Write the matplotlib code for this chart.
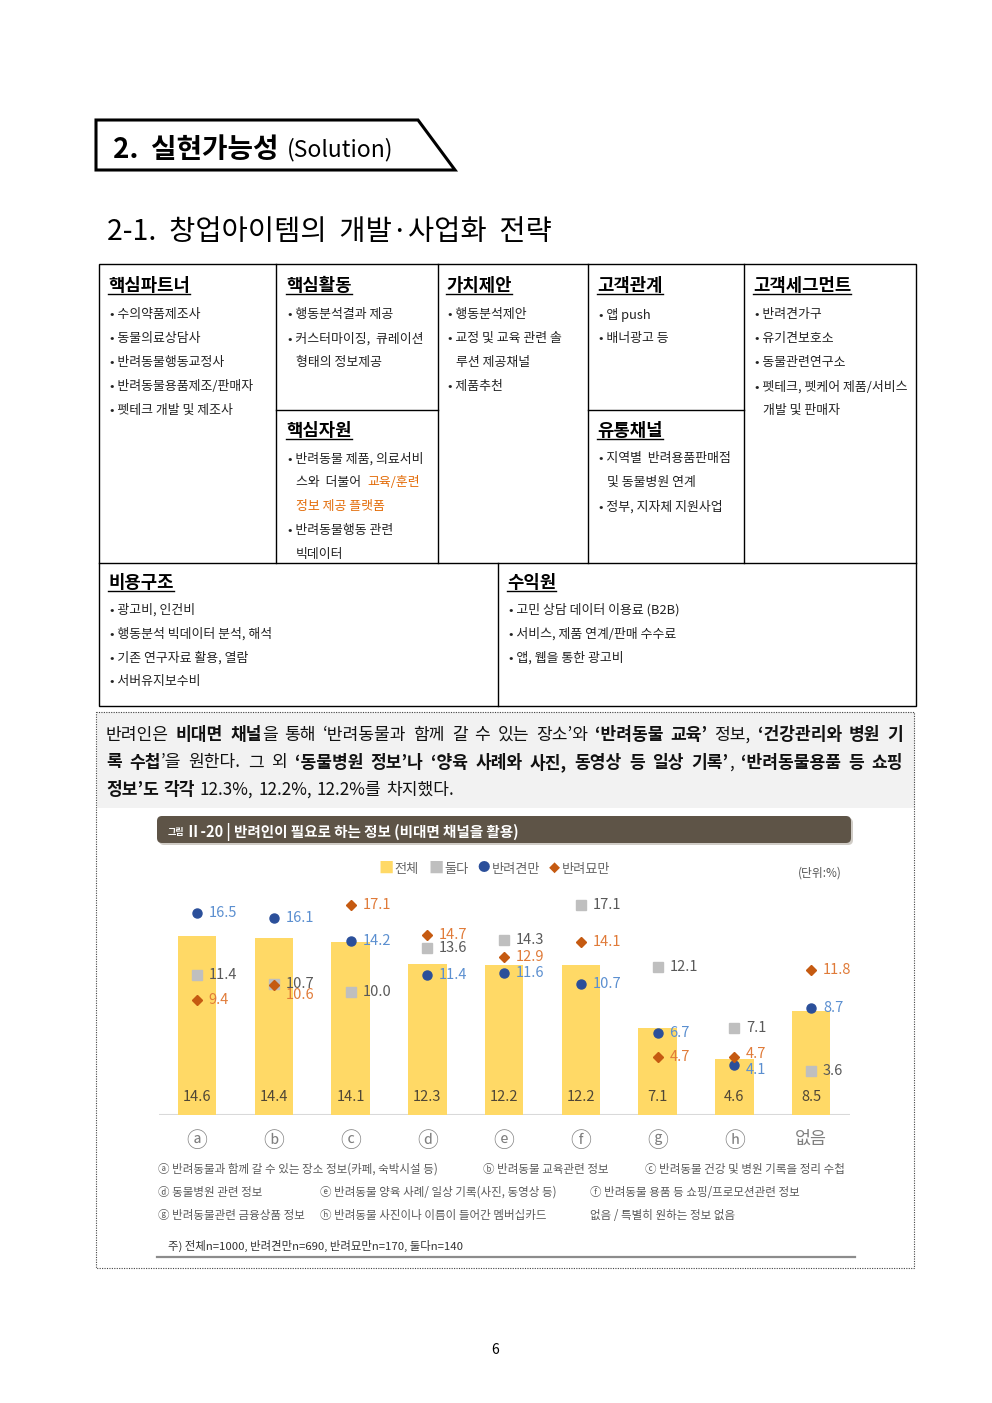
import matplotlib
matplotlib.use('Agg')
import matplotlib.pyplot as plt
from matplotlib.patches import Rectangle, Polygon, FancyBboxPatch

FONT = ['Noto Sans CJK KR', 'DejaVu Sans']
plt.rcParams['font.family'] = FONT

# ---------------- data ----------------
categories = ['ⓐ', 'ⓑ', 'ⓒ', 'ⓓ', 'ⓔ', 'ⓕ', 'ⓖ', 'ⓗ', '없음']
total = [14.6, 14.4, 14.1, 12.3, 12.2, 12.2, 7.1, 4.6, 8.5]
both = [11.4, 10.7, 10.0, 13.6, 14.3, 17.1, 12.1, 7.1, 3.6]
dog_only = [16.5, 16.1, 14.2, 11.4, 11.6, 10.7, 6.7, 4.1, 8.7]
cat_only = [9.4, 10.6, 17.1, 14.7, 12.9, 14.1, 4.7, 4.7, 11.8]
series_names = ['전체', '둘다', '반려견만', '반려묘만']

footnotes = [
    ['ⓐ 반려동물과 함께 갈 수 있는 장소 정보(카페, 숙박시설 등)', 'ⓑ 반려동물 교육관련 정보', 'ⓒ 반려동물 건강 및 병원 기록을 정리 수첩'],
    ['ⓓ 동물병원 관련 정보', 'ⓔ 반려동물 양육 사례/ 일상 기록(사진, 동영상 등)', 'ⓕ 반려동물 용품 등 쇼핑/프로모션관련 정보'],
    ['ⓖ 반려동물관련 금융상품 정보', 'ⓗ 반려동물 사진이나 이름이 들어간 멤버십카드', '없음 / 특별히 원하는 정보 없음'],
]

W, H = 992, 1403
fig = plt.figure(figsize=(W / 100, H / 100), dpi=100)
fig.patch.set_facecolor('white')
pg = fig.add_axes([0, 0, 1, 1])
pg.set_xlim(0, W)
pg.set_ylim(H, 0)
pg.axis('off')
R = fig.canvas.get_renderer()


def txt(x, y, s, size, weight='normal', color='#000000', ha='left', va='center_baseline', **kw):
    return pg.text(x, y, s, fontsize=size, fontweight=weight, color=color, ha=ha, va=va, **kw)


def wid(t):
    return t.get_window_extent(renderer=R).width


# ---------------- section header ----------------
pg.add_patch(Polygon([(96, 120), (418, 120), (455, 170), (96, 170)], closed=True,
                     fill=False, lw=2.2, ec='black', joinstyle='miter'))
t = txt(113, 147, '2.  실현가능성', 20, 'bold')
txt(113 + wid(t) + 8, 147, '(Solution)', 16.5, 'medium')

txt(107, 229, '2-1.  창업아이템의  개발·사업화  전략', 20.5, 'normal')

# ---------------- business model table ----------------
LW = 1.0
pg.add_patch(Rectangle((99, 264), 817, 442, fill=False, lw=LW, ec='black'))
for xv in [276, 438, 588, 744]:
    pg.plot([xv, xv], [264, 563], color='black', lw=LW)
pg.plot([99, 916], [563, 563], color='black', lw=LW)
pg.plot([498, 498], [563, 706], color='black', lw=LW)
pg.plot([276, 438], [410, 410], color='black', lw=LW)
pg.plot([588, 744], [410, 410], color='black', lw=LW)

HS, IS = 12.8, 9.3
ORANGE_T = '#E36C09'


def header(x, y, s):
    t = txt(x, y, s, HS, 'bold')
    w = wid(t)
    pg.plot([x, x + w], [y + 10, y + 10], color='black', lw=1.0)


def items(x, y0, lines, step=24):
    for i, ln in enumerate(lines):
        if isinstance(ln, tuple):
            xi = x + ln[1]
            s = ln[0]
        else:
            xi, s = x, ln
        txt(xi, y0 + i * step, s, IS, color='#222222')


header(108, 284, '핵심파트너')
items(110, 313, ['• 수의약품제조사', '• 동물의료상담사', '• 반려동물행동교정사',
                 '• 반려동물용품제조/판매자', '• 펫테크 개발 및 제조사'])

header(286, 284, '핵심활동')
items(288, 313, ['• 행동분석결과 제공', '• 커스터마이징,  큐레이션', ('형태의 정보제공', 8)])

header(286, 429, '핵심자원')
items(288, 457, ['• 반려동물 제품, 의료서비'])
t = txt(296, 481, '스와  더불어  ', IS, color='#222222')
txt(296 + wid(t), 481, '교육/훈련', IS, color=ORANGE_T)
txt(296, 505, '정보 제공 플랫폼', IS, color=ORANGE_T)
items(288, 529, ['• 반려동물행동 관련', ('빅데이터', 8)])

header(446, 284, '가치제안')
items(448, 313, ['• 행동분석제안', '• 교정 및 교육 관련 솔', ('루션 제공채널', 8), '• 제품추천'])

header(597, 284, '고객관계')
items(599, 313, ['• 앱 push', '• 배너광고 등'])

header(597, 429, '유통채널')
items(599, 457, ['• 지역별  반려용품판매점', ('및 동물병원 연계', 8), '• 정부, 지자체 지원사업'])

header(753, 284, '고객세그먼트')
items(755, 313, ['• 반려견가구', '• 유기견보호소', '• 동물관련연구소',
                 '• 펫테크, 펫케어 제품/서비스', ('개발 및 판매자', 8)])

header(108, 581, '비용구조')
items(110, 608, ['• 광고비, 인건비', '• 행동분석 빅데이터 분석, 해석',
                 '• 기존 연구자료 활용, 열람', '• 서버유지보수비'])
header(507, 581, '수익원')
items(509, 608, ['• 고민 상담 데이터 이용료 (B2B)', '• 서비스, 제품 연계/판매 수수료',
                 '• 앱, 웹을 통한 광고비'])

# ---------------- gray text box + dotted frame ----------------
pg.add_patch(Rectangle((97, 712), 818, 96, fc='#F2F2F2', ec='none', zorder=0))
pg.add_patch(Rectangle((96, 712), 818, 556, fill=False, ec='#444444', lw=0.8,
                       ls=(0, (1, 1.2))))

PS = 12.3
N, B = 'normal', 'bold'
para = [
    ([('반려인은 ', N), ('비대면 채널', B), ('을 통해 ‘반려동물과 함께 갈 수 있는 장소’와 ', N),
      ('‘반려동물 교육’', B), (' 정보, ', N), ('‘건강관리와 병원 기', B)], True),
    ([('록 수첩', B), ('’을 원한다. 그 외 ', N), ('‘동물병원 정보’나 ‘양육 사례와 사진, 동영상 등 일상 기록’', B),
      (', ', N), ('‘반려동물용품 등 쇼핑', B)], True),
    ([('정보’도 각각', B), (' 12.3%, 12.2%, 12.2%를 차지했다.', N)], False),
]


def draw_line(x, y, runs, size, justify_to=None):
    words = [[]]
    for s, w in runs:
        parts = s.split(' ')
        for k, p in enumerate(parts):
            if k > 0:
                words.append([])
            if p:
                words[-1].append((p, w))
    words = [wd for wd in words if wd]
    placed = []
    widths = []
    for wd in words:
        ws = 0
        arts = []
        for p, w in wd:
            t = txt(0, y, p, size, w, color='#111111')
            arts.append((t, wid(t)))
            ws += arts[-1][1]
        placed.append(arts)
        widths.append(ws)
    sp = size * 100 / 72 * 0.28
    if justify_to is not None and len(words) > 1:
        sp = (justify_to - sum(widths)) / (len(words) - 1)
    cx = x
    for arts, ws in zip(placed, widths):
        for t, w in arts:
            t.set_x(cx)
            cx += w
        cx += sp


for i, (runs, just) in enumerate(para):
    draw_line(106, 733 + i * 27.5, runs, PS, 797 if just else None)

# ---------------- chart title bar ----------------
pg.add_patch(FancyBboxPatch((159, 818), 694, 27, boxstyle='round,pad=0,rounding_size=5',
                            fc='#D0CCC6', ec='none'))
pg.add_patch(FancyBboxPatch((157, 816), 694, 27, boxstyle='round,pad=0,rounding_size=5',
                            fc='#5E5447', ec='none'))
t = txt(168, 831, '그림', 6.5, 'bold', color='white')
txt(168 + wid(t) + 1, 830, 'Ⅱ-20 | 반려인이 필요로 하는 정보 (비대면 채널을 활용)', 10.5, 'bold', color='white')

# legend
LEG_C = '#666666'
legend_items = [('■', '#FFD966', 386, 11), ('■', '#BFBFBF', 436, 11),
                ('●', '#2B4F9A', 484, 9), ('◆', '#C55A11', 554, 8)]
for (sym, col, lx, fs), name in zip(legend_items, series_names):
    txt(lx, 868, sym, fs, color=col, ha='center', va='center')
    txt(lx + 8, 868, name, 9.5, color=LEG_C)
txt(842, 872, '(단위:%)', 8.5, color='#555555', ha='right')

# ---------------- chart ----------------
x0, x1 = 158.6, 849.6
base, top = 1115, 880
ppu = 12.26
ax = fig.add_axes([x0 / W, (H - base) / H, (x1 - x0) / W, (base - top) / H])
ax.set_xlim(-0.5, 8.5)
ax.set_ylim(0, (base - top) / ppu)
ax.patch.set_alpha(0)
for s in ax.spines.values():
    s.set_visible(False)
ax.set_yticks([])
xs = list(range(len(categories)))
ax.set_xticks(xs, categories)
ax.tick_params(axis='x', length=0, pad=11, labelsize=12.5, labelcolor='#7F7F7F')
for lab in ax.get_xticklabels():
    if lab.get_text() != '없음':
        lab.set_fontsize(15)
ax.axhline(0, color='#D9D9D9', lw=1.5, zorder=1)

ax.bar(xs, total, width=0.5, color='#FFD966', zorder=2)
for i, v in enumerate(total):
    ax.annotate(f'{v:.1f}', (i, 0), xytext=(0, 13), textcoords='offset points',
                ha='center', va='center', fontsize=10.5, color='#4F4636', zorder=5)

series = [
    (both, 's', '#BFBFBF', 6.5, '#595959'),
    (dog_only, 'o', '#2B4F9A', 6.5, '#5B8FD0'),
    (cat_only, 'D', '#C55A11', 4.6, '#E07B39'),
]
label_nudge = {(2, 1): -7.5, (2, 7): 2.5, (1, 7): -3.5}
for si, (vals, mk, col, ms, lcol) in enumerate(series):
    ax.plot(xs, vals, ls='none', marker=mk, color=col, ms=ms, mec=col, zorder=4)
    for i, v in enumerate(vals):
        dy = label_nudge.get((si, i), 0)
        ax.annotate(f'{v:.1f}', (i, v), xytext=(8.5, dy), textcoords='offset points',
                    ha='left', va='center', fontsize=10.5, color=lcol, zorder=5)

# footnotes
fx = [[158, 483, 645], [158, 320, 590], [158, 320, 590]]
for r, row in enumerate(footnotes):
    for c, s in enumerate(row):
        txt(fx[r][c], 1168 + r * 23, s, 8.3, color='#595959')

txt(168, 1245, '주) 전체n=1000, 반려견만n=690, 반려묘만n=170, 둘다n=140', 8.2, 'medium', color='#333333')
pg.plot([157, 855], [1257, 1257], color='#8C8C8C', lw=1.6)

txt(495, 1349, '6', 10, ha='center')

fig.savefig('out.png', dpi=100)
